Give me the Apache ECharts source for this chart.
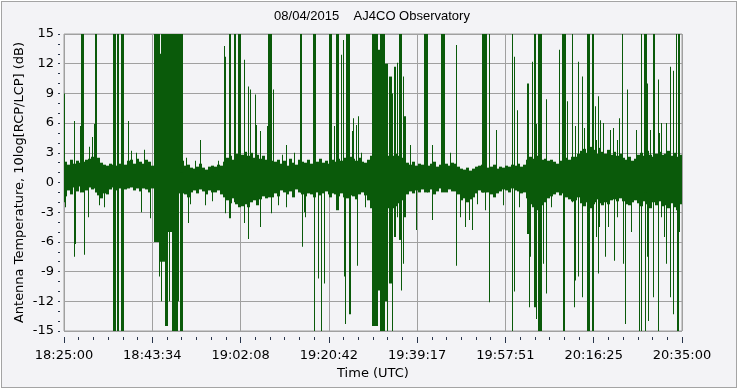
<!DOCTYPE html>
<html><head><meta charset="utf-8">
<script src="https://cdn.jsdelivr.net/npm/echarts@6/dist/echarts.min.js"></script>
<style>
html,body{margin:0;padding:0;background:#fff;}
#frame{position:absolute;left:1px;top:1px;width:734px;height:385px;border:1px solid #a4a4a4;background:#f3f3f6;}
#chart{position:absolute;left:0;top:0;width:738px;height:389px;}
</style></head><body><div id="frame"></div><div id="chart"></div>
<script>
// Time axis: seconds after 18:25:00 UTC, span 130 minutes
const START_SEC = 18 * 3600 + 25 * 60;
const SPAN_SEC = 7800;
const TITLE = '08/04/2015    AJ4CO Observatory';
const Y_NAME = 'Antenna Temperature, 10log[RCP/LCP] (dB)';
const X_NAME = 'Time (UTC)';

// Noise band envelope: 206 equal time bins, upper and lower limit (dB)
const bandHi = [
 2.1,1.8,2.3,1.9,2.2,2.0,2.1,2.3,2.4,2.6,
 2.2,2.5,2.0,1.8,1.7,1.9,1.8,1.7,1.9,1.7,
 1.8,2.2,2.3,1.9,2.4,2.1,1.9,2.3,2.1,1.7,
 2.2,2.2,2.2,2.2,2.2,2.2,2.2,2.2,2.2,2.2,
 1.7,1.8,1.5,1.4,1.6,1.9,1.5,1.3,1.6,1.7,
 1.6,1.8,1.7,2.1,2.5,2.7,2.3,2.9,2.6,2.8,
 3.1,2.7,3.0,2.5,2.8,2.4,2.7,2.3,2.6,2.2,
 2.1,2.3,1.9,2.2,1.7,2.4,2.0,1.8,2.3,2.1,
 2.0,2.3,1.9,2.2,2.1,2.4,2.0,2.2,1.9,2.3,
 2.1,2.4,2.2,2.5,2.3,2.6,2.4,2.2,2.5,2.1,
 2.0,2.3,2.7,2.7,2.7,2.7,2.7,2.7,2.7,2.7,
 2.9,2.7,2.5,2.3,2.0,1.8,2.1,1.7,1.9,1.8,
 2.0,1.7,1.9,2.1,1.6,1.8,2.2,1.9,1.7,2.0,
 1.9,1.6,1.4,1.3,1.5,1.2,1.4,1.6,1.7,1.8,
 1.7,1.5,1.6,1.8,1.4,1.6,1.5,1.7,1.6,1.8,
 1.7,1.9,1.6,1.8,2.3,2.6,2.4,2.7,2.5,2.3,
 2.4,2.2,2.3,2.1,1.9,2.2,2.0,2.5,2.3,2.6,
 2.6,2.9,3.2,3.4,3.0,3.6,3.3,2.9,3.5,3.1,
 2.9,3.3,2.8,3.1,2.7,2.9,2.5,2.3,2.6,2.2,
 2.4,2.8,3.0,2.7,3.2,2.8,2.6,2.9,3.1,2.8,
 2.9,3.2,2.7,3.0,2.6,2.8
];
const bandLo = [
 -1.4,-0.8,-1.2,-0.5,-0.9,-0.4,-0.6,-0.8,-0.5,-0.7,
 -0.6,-1.3,-1.6,-1.1,-1.2,-0.7,-0.5,-0.8,-0.6,-0.4,
 -0.7,-0.6,-0.5,-0.8,-0.6,-0.9,-0.6,-0.7,-1.0,-0.6,
 -1.1,-1.1,-1.1,-1.1,-1.1,-1.1,-1.1,-1.1,-1.1,-1.1,
 -1.2,-1.5,-1.0,-0.8,-1.1,-0.7,-0.9,-1.2,-0.8,-1.0,
 -1.0,-0.8,-1.2,-1.5,-1.8,-2.1,-1.6,-2.2,-1.9,-2.4,
 -2.2,-2.5,-2.0,-1.8,-2.3,-1.7,-1.4,-1.6,-1.3,-1.5,
 -1.1,-1.4,-0.8,-1.0,-1.2,-0.9,-1.5,-0.7,-1.0,-1.2,
 -1.4,-1.1,-1.2,-1.5,-1.0,-1.3,-1.1,-0.9,-1.2,-1.1,
 -1.2,-1.4,-1.1,-1.5,-1.6,-1.3,-1.4,-1.7,-1.2,-1.0,
 -1.3,-1.8,-2.6,-2.6,-2.6,-2.6,-2.6,-2.6,-2.6,-2.6,
 -2.4,-2.1,-1.8,-1.4,-1.2,-0.9,-1.1,-0.8,-1.0,-0.7,
 -0.8,-1.0,-0.7,-1.2,-0.9,-0.6,-0.8,-1.0,-0.7,-0.9,
 -0.9,-1.2,-1.8,-1.6,-2.0,-1.7,-1.5,-1.1,-0.8,-1.0,
 -0.8,-1.0,-1.2,-1.5,-1.1,-0.9,-0.7,-0.8,-1.0,-0.6,
 -0.8,-0.9,-1.1,-1.0,-1.6,-2.2,-2.5,-2.8,-2.6,-2.3,
 -2.0,-1.6,-1.4,-1.2,-1.0,-1.3,-1.1,-1.5,-1.7,-1.9,
 -1.8,-1.5,-2.1,-2.4,-2.0,-2.6,-2.2,-1.7,-2.1,-2.3,
 -2.0,-2.2,-1.8,-1.7,-1.9,-1.6,-1.9,-2.2,-2.3,-2.0,
 -1.8,-2.1,-2.4,-1.9,-2.2,-2.6,-2.0,-2.3,-1.9,-2.4,
 -2.3,-2.6,-2.1,-2.5,-2.8,-2.2
];

// Excursions: [start s, end s, low dB, high dB]
const spikes = [
 [9,9,-2,9],[25,25,-2.5,1],[133,133,-7.5,6.2],[151,151,-6.2,1.5],[202,202,-1,5.7],
 [215,252,-1,15],[256,256,-7.3,1],[312,312,-3.5,1],[328,328,0,3.6],[366,366,0,4.6],
 [387,387,0,5.9],[395,420,-1,15],[454,454,-2.3,1],[505,505,-2.5,1],
 [618,656,-15,15],[669,698,-15,15],[716,753,-15,15],[808,808,0,6.2],[846,846,0,3.2],
 [909,909,0,3.0],[984,984,-3,1],[1022,1022,0,3.3],[1089,1089,-3.6,1],
 [1132,1206,-6,15],[1203,1203,-9.5,1],[1206,1224,-8,13],[1224,1275,-8,15],[1228,1228,-12,1],
 [1275,1312,-14.5,15],[1312,1357,-5,15],[1330,1330,-12,1],
 [1357,1506,-1,15],[1357,1435,-15,1],[1435,1447,-12,1],[1460,1506,-15,1],
 [1540,1540,0,2.5],[1569,1569,-4.1,1],[1591,1591,-2.2,1],[1666,1666,0,2.2],[1723,1723,0,4.3],
 [1792,1792,-2.3,1],[1868,1868,-1.9,1],[1944,1944,0,2.2],[2023,2023,-1,13.8],[2038,2038,-1,12.7],
 [2044,2044,-3.1,1],[2082,2114,-3.6,15],[2145,2171,-2,15],[2190,2234,-2.5,15],
 [2275,2275,-4.1,12.4],[2326,2326,-5.7,9.7],[2354,2354,-1,9.4],[2419,2419,-1,8.9],[2432,2432,-1,5.8],
 [2482,2482,-4.5,5.2],[2571,2571,-1,5.7],[2575,2625,-1.5,15],[2616,2616,-3.1,1],[2638,2638,-1,9.4],
 [2650,2650,-1,7.5],[2701,2701,-2.3,1],[2764,2764,0,2.8],[2805,2805,-2.5,3.8],[2903,2903,0,3],
 [2974,3008,-1,15],[3008,3008,-6.5,1],[3037,3037,-3,1],[3050,3050,-3.5,1],
 [3143,3184,-1,15],[3151,3171,-15,1],[3206,3206,-9.7,1],[3256,3256,-15,1],[3290,3290,-10.2,1],
 [3344,3382,-1.5,15],[3416,3416,0,5.7],[3437,3467,-2.8,15],[3500,3500,-1,12.9],[3525,3525,-1,14.4],
 [3534,3534,-9.5,1],[3550,3550,-14.3,1],[3563,3605,-1,15],[3600,3600,-13.3,1],[3613,3613,-13.3,1],
 [3647,3647,0,5.2],[3660,3660,0,6.5],[3698,3698,0,5.8],[3710,3710,-8.4,1],[3719,3719,0,6.7],
 [3761,3761,0,3],[3811,3811,-2.5,1],
 [3890,3959,-14.5,15],[3959,3993,-10.9,13.4],[3993,4052,-15,15],[4052,4090,-12,12],[4077,4077,-15,1],
 [4107,4137,-10.2,10.7],[4145,4158,-15,9],[4166,4190,-5.5,11.7],[4203,4203,-3.5,12.1],
 [4232,4262,-5.8,15],[4262,4262,-10.9,1],[4283,4287,-8.2,10.7],[4295,4316,-3.5,6.7],
 [4379,4379,0,3.8],[4455,4455,-4.8,1],[4547,4598,-1,15],[4653,4653,-3.8,3.8],[4758,4808,-1,15],
 [4884,4884,0,3],[4960,4960,-8.4,13.9],[5010,5010,-3.5,1],[5073,5073,-4.5,1],[5115,5115,-3.8,1],
 [5158,5158,-4.8,1],[5225,5225,-2.2,1],[5279,5335,-1,15],[5326,5326,-2.8,1],[5376,5376,-12.1,15],
 [5461,5461,0,5.3],[5550,5550,-2.3,1],[5658,5658,-15,15],[5692,5692,-11,12.7],[5721,5721,0,7.3],
 [5755,5755,-2.5,1],[5843,5869,-5.2,10],[5881,5881,-12.6,1],[5890,5890,-7.5,1],[5910,5910,-1,12.2],
 [5934,5956,-12.6,15],[5965,5965,-13.8,5.9],[5986,6036,-15,15],[6058,6058,-8.2,1],[6092,6092,-11.2,8.4],
 [6150,6150,-2.5,1],[6260,6260,-1,13.4],[6289,6331,-1,15],[6302,6319,-15,1],[6352,6352,-1,8.2],
 [6408,6428,-2,15],[6449,6449,-12.6,1],[6458,6458,-9.9,5.7],[6488,6488,-9.5,1],[6496,6496,-1,12.2],
 [6538,6550,-11.6,10.7],[6575,6575,0,5.5],[6601,6643,-15,15],[6664,6685,-15,15],[6702,6702,-2,7.7],
 [6718,6718,-5.5,4.3],[6743,6743,-1,8.7],[6748,6748,-9.2,1],[6764,6764,-4.5,1],[6773,6773,0,6.3],
 [6811,6811,0,6],[6832,6832,-7.5,1],[6874,6874,-4.5,1],[6894,6894,0,5.3],[6937,6937,0,5.5],
 [6945,6945,-7.9,1],[6988,6988,-3.5,4.3],[7017,7017,0,6.5],[7054,7054,-1,15],[7063,7063,-8.2,1],
 [7084,7084,-14.3,1],[7114,7114,-1,9.4],[7168,7168,-5,1],[7223,7223,0,5.3],[7265,7265,-15,1],
 [7295,7295,-15,15],[7316,7358,-1,15],[7337,7337,-15,1],[7366,7366,-7.5,10],[7379,7379,-14,1],
 [7400,7400,0,5.3],[7434,7463,-1,15],[7442,7442,-11.6,1],[7492,7509,-15,10.4],[7522,7522,0,5],
 [7547,7547,-3.5,6],[7576,7576,-5.5,1],[7602,7602,0,6],[7610,7610,-8.2,1],[7661,7661,-11.6,11.7],
 [7695,7695,-13.3,11.3],[7720,7737,-1,15],[7737,7737,-15,1],[7750,7779,-2,15],[7762,7762,-15,1],
 [7774,7774,-5,1]
];

const GREEN = '#0a5a0a';
const TICK = '#28344a';
const binW = SPAN_SEC / bandHi.length;
const bandData = bandHi.map((h, i) => [i * binW, (i + 1) * binW, bandLo[i], h]);

function pad(n) { return (n < 10 ? '0' : '') + n; }
function fmtTime(v) {
  let s = START_SEC + Math.floor(v + 1e-6);
  const h = Math.floor(s / 3600); s -= h * 3600;
  const m = Math.floor(s / 60); s -= m * 60;
  return pad(h) + ':' + pad(m) + ':' + pad(s);
}

function renderBar(params, api) {
  const t0 = api.value(0), t1 = api.value(1), lo = api.value(2), hi = api.value(3);
  const a = api.coord([t0, hi]);
  const b = api.coord([t1, lo]);
  let x, w;
  if (t1 - t0 < 1) { x = Math.floor(a[0]); w = 1; }
  else { x = Math.round(a[0]); w = Math.max(1, Math.round(b[0]) - x); }
  return { type: 'rect', shape: { x: x, y: a[1], width: w, height: b[1] - a[1] }, style: { fill: GREEN } };
}

const chart = echarts.init(document.getElementById('chart'), null, { renderer: 'canvas' });
const axisFont = { fontFamily: 'DejaVu Sans', fontSize: 13, color: '#000' };
chart.setOption({
  backgroundColor: 'transparent',
  animation: false,
  title: {
    text: TITLE, left: 372, top: 10, textAlign: 'center', padding: 0,
    textStyle: { fontFamily: 'Liberation Sans', fontSize: 13, fontWeight: 'normal', color: '#000' }
  },
  grid: { left: 64, right: 56, top: 34, bottom: 58, show: true, borderColor: '#a0a0a0', borderWidth: 1, backgroundColor: 'transparent' },
  xAxis: {
    type: 'value', position: 'bottom', min: 0, max: SPAN_SEC, interval: SPAN_SEC / 7, offset: 6,
    name: X_NAME, nameLocation: 'middle', nameGap: 30, nameMoveOverlap: false,
    nameTextStyle: { fontFamily: 'DejaVu Sans', fontSize: 13, color: '#000' },
    axisLine: { show: true, onZero: false, lineStyle: { color: 'rgba(0,0,0,0)' } },
    axisTick: { show: true, length: 6, lineStyle: { color: TICK } },
    minorTick: { show: true, splitNumber: 6, length: 3, lineStyle: { color: TICK } },
    axisLabel: Object.assign({ margin: 12, formatter: fmtTime, showMinLabel: true, showMaxLabel: true, hideOverlap: false }, axisFont),
    splitLine: { show: true, lineStyle: { color: '#a0a0a0', width: 1 } }
  },
  yAxis: {
    type: 'value', position: 'left', min: -15, max: 15, interval: 3, offset: 4,
    name: Y_NAME, nameLocation: 'middle', nameGap: 34, nameRotate: 90, nameMoveOverlap: false,
    nameTextStyle: { fontFamily: 'DejaVu Sans', fontSize: 13, color: '#000' },
    axisLine: { show: true, onZero: false, lineStyle: { color: 'rgba(0,0,0,0)' } },
    axisTick: { show: true, length: 2, lineStyle: { color: TICK } },
    minorTick: { show: true, splitNumber: 3, length: 2, lineStyle: { color: TICK } },
    axisLabel: Object.assign({ margin: 6, showMinLabel: true, showMaxLabel: true }, axisFont),
    splitLine: { show: true, lineStyle: { color: '#a0a0a0', width: 1 } }
  },
  series: [
    { type: 'custom', renderItem: renderBar, data: bandData, clip: true, encode: { x: [0, 1], y: [2, 3] }, silent: true },
    { type: 'custom', renderItem: renderBar, data: spikes, clip: true, encode: { x: [0, 1], y: [2, 3] }, silent: true }
  ]
});
</script></body></html>
